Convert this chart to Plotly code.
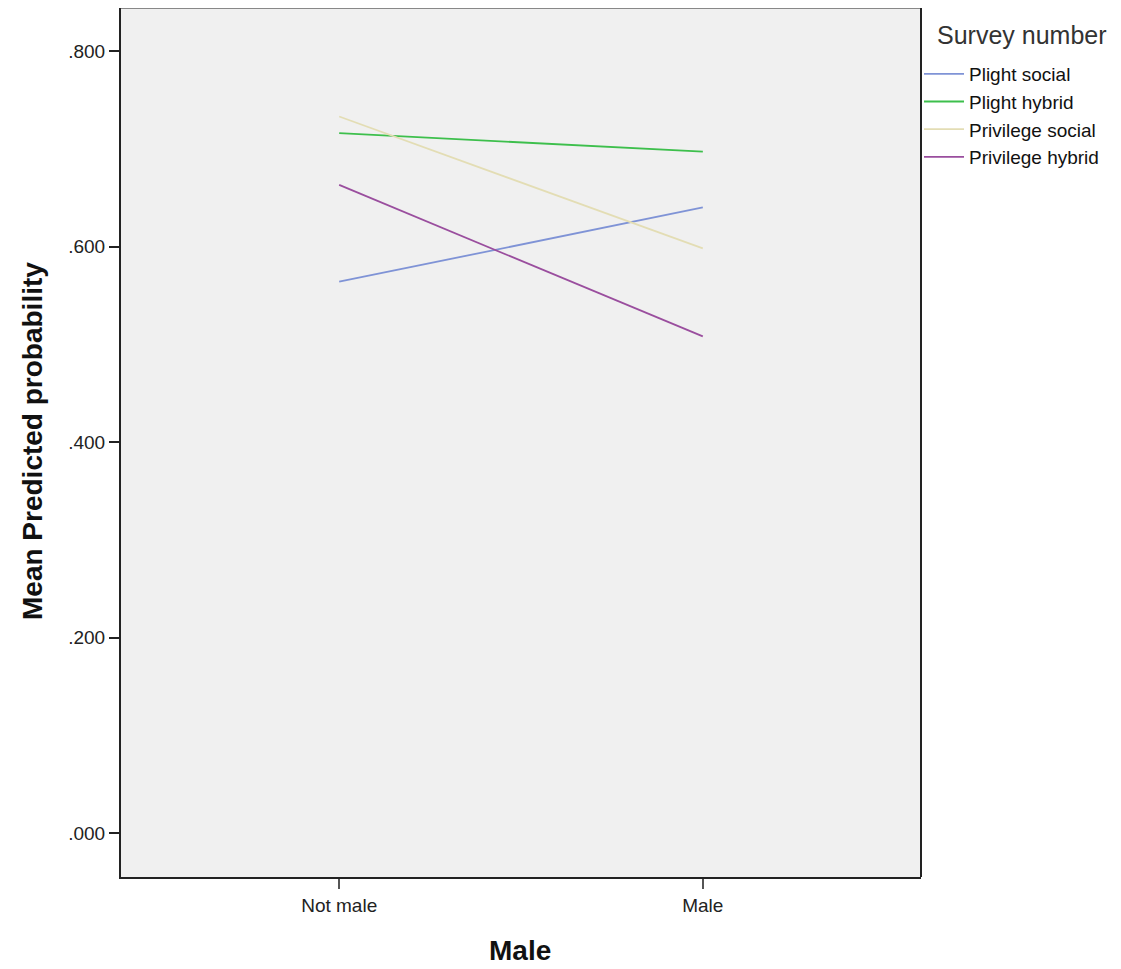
import plotly.graph_objects as go

categories = ["Not male", "Male"]
series_names = ["Plight social", "Plight hybrid", "Privilege social", "Privilege hybrid"]
plight_social = [0.564, 0.640]
plight_hybrid = [0.716, 0.697]
privilege_social = [0.733, 0.598]
privilege_hybrid = [0.663, 0.508]
colors = ["#7f93d6", "#3dbf4c", "#e3ddb4", "#9a4e9e"]
y_ticks = [0.0, 0.2, 0.4, 0.6, 0.8]
y_tick_labels = [".000", ".200", ".400", ".600", ".800"]

fig = go.Figure()
for name, vals, col in zip(series_names,
                           [plight_social, plight_hybrid, privilege_social, privilege_hybrid],
                           colors):
    fig.add_trace(go.Scatter(x=[0, 1], y=vals, mode="lines", name=name,
                             line=dict(color=col, width=1.8)))

fig.update_layout(
    width=1121, height=969,
    margin=dict(l=113, r=208, t=0, b=100),
    paper_bgcolor="white",
    plot_bgcolor="#f0f0f0",
    font=dict(family="Liberation Sans, Arial, sans-serif", color="#222"),
    showlegend=True,
    legend=dict(
        x=0.9975, y=0.946, xanchor="left", yanchor="top",
        font=dict(size=19, color="#111"),
        tracegroupgap=0, itemwidth=40,
        bgcolor="rgba(0,0,0,0)",
    ),
    annotations=[
        dict(text="Survey number", xref="paper", yref="paper",
             x=(935 - 121) / 800, y=1 - (35 - 8) / 869, xanchor="left", yanchor="middle",
             showarrow=False, font=dict(size=25, color="#333")),
        dict(text="<b>Mean Predicted probability</b>", xref="paper", yref="paper",
             x=(32 - 121) / 800, y=1 - (441 - 8) / 869, xanchor="center", yanchor="middle",
             textangle=-90, showarrow=False, font=dict(size=28, color="#111")),
        dict(text="<b>Male</b>", xref="paper", yref="paper",
             x=(520 - 121) / 800, y=1 - (950 - 8) / 869, xanchor="center", yanchor="middle",
             showarrow=False, font=dict(size=28, color="#111")),
    ],
)
fig.update_xaxes(
    range=[-0.6, 1.6], tickvals=[0, 1], ticktext=categories,
    ticks="outside", ticklen=10, tickwidth=2, tickcolor="#555",
    showgrid=False, zeroline=False,
    showline=True, linecolor="#222", linewidth=2, mirror=False,
    tickfont=dict(size=19, color="#222"),
)
fig.update_yaxes(
    range=[-0.045, 0.844], tickvals=y_ticks, ticktext=y_tick_labels,
    ticks="outside", ticklen=10, tickwidth=2, tickcolor="#222",
    showgrid=False, zeroline=False,
    showline=True, linecolor="#222", linewidth=2,
    tickfont=dict(size=19, color="#222"),
)
# top and right frame
fig.add_shape(type="line", xref="paper", yref="paper", x0=0, x1=1, y0=1, y1=1,
              line=dict(color="#888", width=2))
fig.add_shape(type="line", xref="paper", yref="paper", x0=1, x1=1, y0=0, y1=1,
              line=dict(color="#222", width=2))

fig.write_html("out.html")
